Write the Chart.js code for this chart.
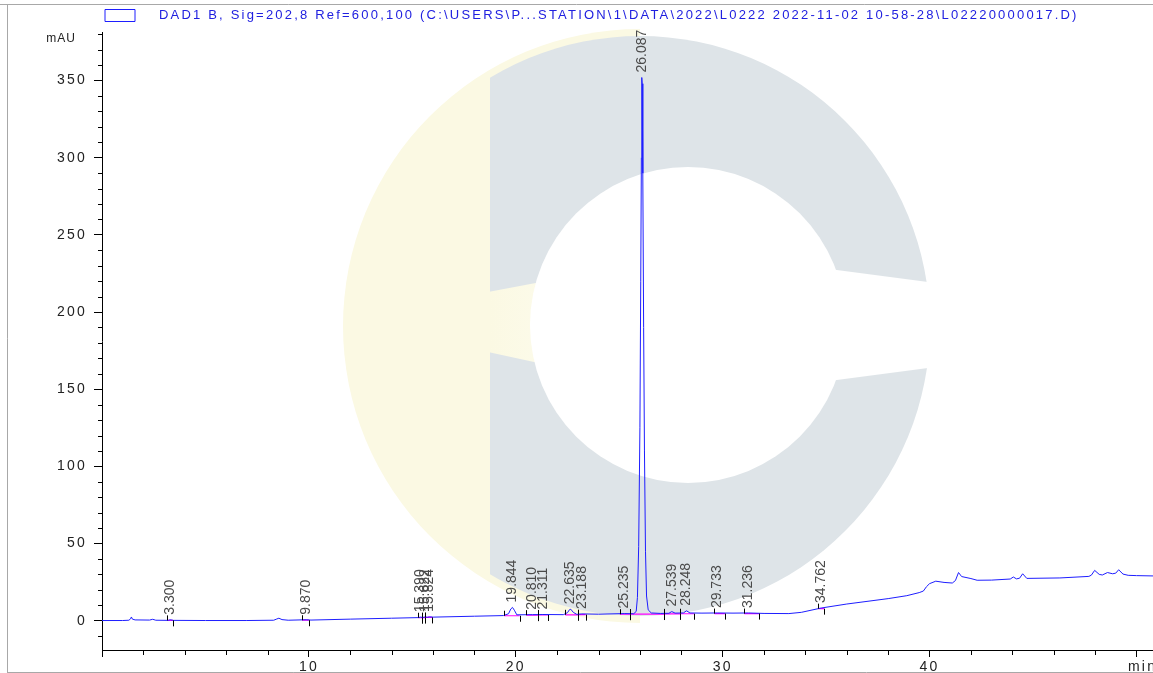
<!DOCTYPE html>
<html>
<head>
<meta charset="utf-8">
<title>DAD1 B chromatogram</title>
<script src="https://cdn.jsdelivr.net/npm/chart.js@4.4.1/dist/chart.umd.min.js"></script>
<style>
  html, body { margin: 0; padding: 0; background: #fff; }
  canvas { display: block; }
</style>
</head>
<body>
<canvas id="chrom" width="1153" height="673"></canvas>
<script>
// ---- values ----
const traceName = 'DAD1 B, Sig=202,8 Ref=600,100 (C:\\USERS\\P...STATION\\1\\DATA\\2022\\L0222 2022-11-02 10-58-28\\L02220000017.D)';

// retention time (min) and signal (mAU)
const timeMin = [
  0, 1.0, 1.3, 1.38, 1.42, 1.47, 1.6, 2.3, 2.45, 2.6, 3.2, 3.3, 3.45, 5.0, 7.0,
  8.3, 8.45, 8.55, 8.7, 9.0, 9.87, 10.1, 12.0, 14.0, 15.3, 15.39, 15.5, 15.62, 15.72, 15.82,
  16.0, 18.0, 19.4, 19.65, 19.76, 19.84, 19.93, 20.05, 20.81, 21.31, 22.3, 22.5, 22.6, 22.66, 22.78,
  22.95, 23.19, 24.0, 25.24, 25.7, 25.82, 25.88, 25.94, 26.0, 26.04, 26.07, 26.09, 26.11, 26.14, 26.18,
  26.22, 26.27, 26.32, 26.4, 26.55, 27.0, 27.4, 27.54, 27.7, 28.1, 28.25, 28.42, 29.0, 29.73, 30.5,
  31.24, 32.0, 33.2, 33.8, 34.76, 36.0, 38.0, 38.9, 39.5, 39.7, 39.85, 40.0, 40.3, 40.7, 41.1,
  41.25, 41.4, 41.55, 42.0, 42.3, 43.0, 43.9, 44.05, 44.2, 44.35, 44.5, 44.7, 46.3, 47.7, 47.82,
  47.98, 48.2, 48.35, 48.6, 48.85, 49.0, 49.14, 49.35, 49.6, 50.0, 50.8
];
const signalMAU = [
  0.1, 0.1, 0.3, 1.2, 2.4, 1.0, 0.5, 0.4, 0.9, 0.3, 0.2, 0.6, 0.2, 0.1, 0.1,
  0.3, 1.1, 1.6, 0.7, 0.3, 0.6, 0.4, 1.0, 1.6, 2.0, 2.3, 2.1, 2.4, 2.2, 2.5,
  2.3, 2.9, 3.3, 4.5, 7.6, 8.6, 6.8, 3.8, 3.9, 4.0, 3.9, 5.2, 7.2, 7.4, 5.4,
  4.1, 4.4, 4.2, 4.6, 4.5, 6, 15, 48, 125, 220, 300, 352, 348, 290, 190,
  110, 45, 16, 7, 5.0, 4.7, 4.8, 5.9, 4.9, 5.0, 6.4, 5.0, 4.9, 5.0, 4.9,
  5.0, 4.7, 4.6, 5.4, 8.2, 10.8, 14.3, 16.2, 18.2, 19.2, 22.0, 24.0, 25.6, 24.8, 24.4,
  26.0, 31.2, 28.6, 27.3, 26.2, 26.3, 27.0, 28.3, 27.1, 27.5, 30.4, 27.4, 27.7, 28.7, 29.5,
  32.6, 30.0, 29.6, 31.2, 30.4, 30.8, 33.0, 30.2, 29.4, 29.2, 29.0
];

// integrated peaks: label time, apex height, integration start/end, baseline level
const peakTimes = [3.300, 9.870, 15.390, 15.622, 15.824, 19.844, 20.810, 21.311, 22.635, 23.188, 25.235, 26.087, 27.539, 28.248, 29.733, 31.236, 34.762];
const peakApex  = [0.6, 0.6, 2.3, 2.4, 2.5, 8.6, 3.9, 4.0, 7.4, 4.4, 4.6, 352, 5.9, 6.4, 4.9, 5.0, 8.2];
const peakStart = [3.15, 9.68, 15.29, 15.45, 15.61, 19.43, 20.51, 21.09, 22.39, 23.03, 25.03, 25.51, 27.17, 27.94, 29.60, 31.04, 34.63];
const peakEnd   = [3.43, 10.0, 15.45, 15.61, 15.97, 20.19, 21.09, 21.58, 23.03, 23.38, 25.51, 27.17, 27.94, 28.63, 30.11, 31.77, 34.90];
const peakBase  = [0.2, 0.3, 1.9, 2.0, 2.1, 3.2, 3.6, 3.7, 3.8, 3.9, 4.2, 4.3, 4.4, 4.5, 4.6, 4.6, 7.8];

// axis ticks
const xLabelTicks = [10, 20, 30, 40, 50];
const xLabelText  = ['10', '20', '30', '40', '  min'];
const yLabelTicks = [0, 50, 100, 150, 200, 250, 300, 350];
const yLabelText  = ['0', '50', '100', '150', '200', '250', '300', '350'];
const yUnitTick = 380;
const yUnitText = 'mAU';

const trace = timeMin.map((t, i) => ({ x: t, y: signalMAU[i] }));
const baselineSegs = [];
peakStart.forEach((t, i) => {
  baselineSegs.push({ x: t, y: peakBase[i] }, { x: peakEnd[i], y: peakBase[i] }, { x: peakEnd[i], y: null });
});

const FONT = 'Arial';
const SPACING = '2.2px';

// faint logo watermark behind the plot + page frame
const backdrop = {
  id: 'backdrop',
  beforeUpdate(chart) { chart.ctx.letterSpacing = SPACING; },
  beforeDraw(chart) {
    const ctx = chart.ctx;
    ctx.letterSpacing = SPACING;
    ctx.save();
    ctx.fillStyle = '#fff';
    ctx.fillRect(0, 0, chart.width, chart.height);

    ctx.save();
    ctx.beginPath(); ctx.rect(0, 0, 640, 673); ctx.clip();
    ctx.fillStyle = '#fbf9e3';
    ctx.beginPath(); ctx.arc(640, 326, 297, 0, Math.PI * 2); ctx.fill();
    ctx.restore();

    ctx.save();
    ctx.beginPath(); ctx.rect(490, 0, 700, 673); ctx.clip();
    ctx.fillStyle = '#dee4e8';
    ctx.beginPath(); ctx.arc(640, 326, 290, 0, Math.PI * 2); ctx.fill();
    ctx.restore();

    const g = ctx.createLinearGradient(490, 0, 720, 0);
    g.addColorStop(0, '#fbf9e3'); g.addColorStop(1, '#ffffff');
    ctx.fillStyle = g;
    ctx.beginPath();
    ctx.moveTo(488, 292); ctx.lineTo(700, 252); ctx.lineTo(928, 282); ctx.lineTo(956, 322);
    ctx.lineTo(928, 368); ctx.lineTo(700, 398); ctx.lineTo(488, 352);
    ctx.closePath(); ctx.fill();
    ctx.fillStyle = '#fff';
    ctx.beginPath(); ctx.arc(688, 325, 158, 0, Math.PI * 2); ctx.fill();

    ctx.strokeStyle = '#a8a8a8'; ctx.lineWidth = 1;
    ctx.beginPath();
    ctx.moveTo(0, 4.5); ctx.lineTo(chart.width, 4.5);
    ctx.moveTo(7.5, 4.5); ctx.lineTo(7.5, chart.height);
    ctx.moveTo(7.5, 672.5); ctx.lineTo(chart.width, 672.5);
    ctx.stroke();
    ctx.restore();
  },
  afterLayout(chart) {
    // legend box sits a little left of where the label padding puts it
    chart.legend.left -= 6; chart.legend.right -= 6;
  }
};

// minor ticks, unit label, peak labels and integration marks
const annotations = {
  id: 'annotations',
  afterDatasetsDraw(chart) {
    const { ctx, scales: { x, y } } = chart;
    ctx.save();
    ctx.strokeStyle = '#000'; ctx.lineWidth = 1;
    ctx.beginPath();
    peakStart.forEach((t, i) => {
      const px = Math.round(x.getPixelForValue(t)) + 0.5, py = y.getPixelForValue(peakBase[i]);
      ctx.moveTo(px, py); ctx.lineTo(px, py - 5);
    });
    peakEnd.forEach((t, i) => {
      const px = Math.round(x.getPixelForValue(t)) + 0.5, py = y.getPixelForValue(peakBase[i]);
      ctx.moveTo(px, py); ctx.lineTo(px, py + 6);
    });
    ctx.stroke();

    ctx.letterSpacing = '0px';
    ctx.font = '14px ' + FONT;
    ctx.fillStyle = '#4a4a4a';
    ctx.textAlign = 'left'; ctx.textBaseline = 'middle';
    peakTimes.forEach((t, i) => {
      const px = x.getPixelForValue(t), py = y.getPixelForValue(peakApex[i]) - 5;
      ctx.save();
      ctx.translate(px, py); ctx.rotate(-Math.PI / 2);
      ctx.fillText(t.toFixed(3), 0, 0);
      ctx.restore();
    });
    ctx.restore();
  },
  afterDraw(chart) {
    const { ctx, scales: { x, y } } = chart;
    ctx.save();
    ctx.strokeStyle = '#000'; ctx.lineWidth = 1;
    ctx.beginPath();
    y.ticks.forEach(tk => {
      if (tk.value % 50 === 0) return;
      const py = Math.round(y.getPixelForValue(tk.value)) + 0.5;
      ctx.moveTo(y.right - 4, py); ctx.lineTo(y.right, py);
    });
    x.ticks.forEach(tk => {
      if (tk.value % 10 === 0) return;
      const px = Math.round(x.getPixelForValue(tk.value)) + 0.5;
      ctx.moveTo(px, x.top); ctx.lineTo(px, x.top + 5);
    });
    ctx.stroke();

    ctx.letterSpacing = '1px';
    ctx.font = '12px ' + FONT;
    ctx.fillStyle = '#222';
    ctx.textAlign = 'right'; ctx.textBaseline = 'middle';
    ctx.fillText(yUnitText, 76, y.getPixelForValue(yUnitTick) + 4);
    ctx.restore();
  }
};

new Chart(document.getElementById('chrom'), {
  type: 'line',
  data: {
    datasets: [
      { label: '   ' + traceName, data: trace, borderColor: '#1e1eff', backgroundColor: 'rgba(0,0,0,0)',
        borderWidth: 1, pointRadius: 0, tension: 0, order: 0 },
      { label: 'baseline', data: baselineSegs, borderColor: '#ff00ff', backgroundColor: 'rgba(0,0,0,0)',
        borderWidth: 1.2, pointRadius: 0, spanGaps: false, order: 1 }
    ]
  },
  options: {
    responsive: false,
    animation: false,
    events: [],
    layout: { padding: 0 },
    plugins: {
      tooltip: { enabled: false },
      legend: {
        position: 'top', align: 'start', fullSize: false,
        labels: {
          boxWidth: 30, boxHeight: 12, padding: 9, color: '#2020e0',
          font: { family: FONT, size: 13 },
          filter: item => item.datasetIndex === 0
        }
      }
    },
    scales: {
      x: {
        type: 'linear', min: 0, max: 50.8,
        afterBuildTicks: s => { s.ticks = s.ticks.filter(t => Number.isInteger(t.value) && t.value % 2 === 0); },
        // the unit label runs off the right edge in the print, so keep the axis full width
        afterFit: s => { s.height = 23; s.paddingRight = 0; s.paddingLeft = 0; },
        ticks: {
          stepSize: 2, includeBounds: false, autoSkip: false, maxRotation: 0, padding: 2, color: '#222',
          font: { family: FONT, size: 14 },
          callback: v => { const i = xLabelTicks.indexOf(v); return i < 0 ? '' : xLabelText[i]; }
        },
        grid: {
          drawOnChartArea: false, tickLength: 7,
          tickColor: c => (c.tick && c.tick.value % 10 === 0) ? '#000' : 'rgba(0,0,0,0)'
        },
        border: { display: true, color: '#000', width: 1 }
      },
      y: {
        min: -19, max: 381.5,
        afterBuildTicks: s => { s.ticks = s.ticks.filter(t => Number.isInteger(t.value) && t.value % 10 === 0); },
        afterFit: s => { s.width = 102; },
        ticks: {
          stepSize: 10, includeBounds: false, autoSkip: false, padding: 7, color: '#222',
          font: { family: FONT, size: 14 },
          callback: v => { const i = yLabelTicks.indexOf(v); return i < 0 ? '' : yLabelText[i]; }
        },
        grid: {
          drawOnChartArea: false, tickLength: 8,
          tickColor: c => (c.tick && c.tick.value % 50 === 0) ? '#000' : 'rgba(0,0,0,0)'
        },
        border: { display: true, color: '#000', width: 1 }
      }
    }
  },
  plugins: [backdrop, annotations]
});
</script>
</body>
</html>
